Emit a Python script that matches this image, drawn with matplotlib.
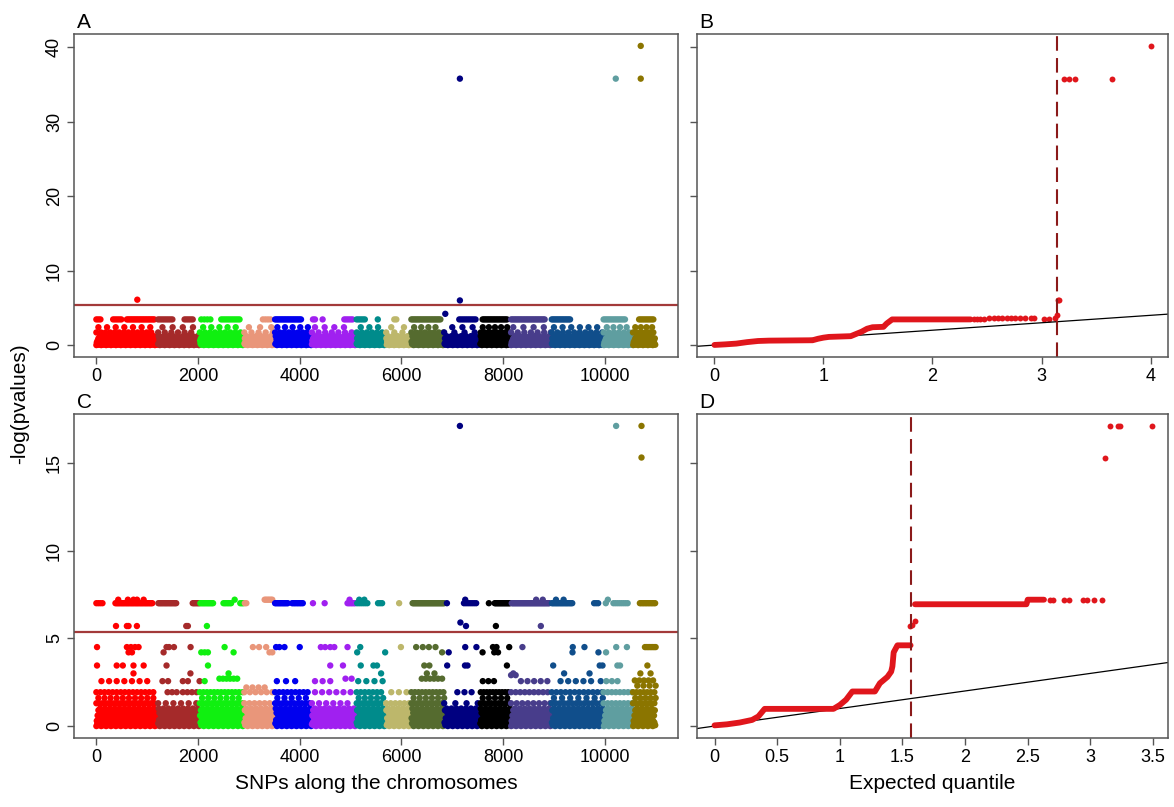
import numpy as np
import matplotlib.pyplot as plt

plt.rcParams['font.family'] = ['Liberation Sans', 'DejaVu Sans']

# ---- chromosomes (SNP index where each one starts) ----
chrom_start = [0, 1215, 2035, 2910, 3515, 4240, 5120, 5700, 6196, 6841,
               7545, 8157, 8957, 9977, 10555]
n_snps = 11000
chrom_colors = ['#FF0000', '#A52A2A', '#10F010', '#E9967A', '#0000EE',
                '#A020F0', '#008B8B', '#BDB76B', '#556B2F', '#000080',
                '#000000', '#483D8B', '#104E8B', '#5F9EA0', '#8B7500']
threshold = 5.34

# ---- panel A: -log p, bulk band levels + rows (level, first SNP, last SNP, spacing) ----
band_A = [0.0, 0.35, 0.1, 0.6, 0.2, 0.9, 0.05, 0.45, 0.15, 1.2, 0.3, 0.75]
runs_A = [
    (3.45, 0, 100, 40), (3.45, 330, 490, 40), (3.45, 600, 1150, 30),
    (3.45, 1215, 1505, 40), (3.45, 1735, 1930, 40),
    (3.45, 2063, 2260, 60), (3.45, 2456, 2850, 40), (3.45, 3275, 3440, 50),
    (3.45, 3515, 4028, 30), (3.45, 4260, 4320, 40), (3.45, 4450, 4450, 1),
    (3.45, 4877, 5050, 40), (3.45, 5120, 5305, 40), (3.45, 5535, 5535, 1),
    (3.45, 5860, 5930, 40), (3.45, 6196, 6778, 30), (3.45, 7138, 7466, 40),
    (3.45, 7597, 8088, 30), (3.45, 8157, 8841, 30), (3.45, 8957, 9333, 30),
    (3.45, 9977, 10413, 35), (3.45, 10675, 10970, 35),
    (2.4, 40, 1150, 170), (2.4, 1300, 1980, 200), (2.4, 2100, 2850, 160),
    (2.4, 3000, 3440, 220), (2.4, 3560, 4200, 150), (2.4, 4300, 5050, 190),
    (2.4, 5200, 5650, 170), (2.4, 5800, 6150, 250), (2.4, 6250, 6800, 140),
    (2.4, 7000, 7500, 200), (2.4, 7600, 8100, 120), (2.4, 8200, 8900, 200),
    (2.4, 9000, 9900, 170), (2.4, 10040, 10500, 130), (2.4, 10600, 10990, 110),
    (1.7, 0, 1150, 90), (1.7, 1215, 1980, 130), (1.7, 2035, 2900, 100),
    (1.7, 2910, 3500, 140), (1.7, 3515, 4200, 90), (1.7, 4240, 5050, 130),
    (1.7, 5120, 5650, 100), (1.7, 5700, 6150, 160), (1.7, 6196, 6840, 90),
    (1.7, 6841, 7545, 200), (1.7, 7560, 8150, 80), (1.7, 8157, 8950, 130),
    (1.7, 8957, 9960, 110), (1.7, 9977, 10550, 100), (1.7, 10555, 11000, 80),
]
top_A_snp = [805, 7150, 6863, 7150, 10216, 10707, 10707]
top_A_val = [6.1, 6.0, 4.2, 35.8, 35.8, 35.8, 40.2]

# ---- panel C ----
band_C = [0.0, 0.3, 0.1, 0.6, 0.2, 0.9, 0.05, 0.45, 0.15, 1.0, 0.35, 0.75]
runs_C = [
    (7.0, 0, 130, 40), (7.0, 375, 1105, 25), (7.0, 1220, 1590, 25),
    (7.0, 1895, 2310, 25), (7.0, 2500, 2650, 30), (7.0, 2830, 2950, 30),
    (7.2, 3310, 3460, 30), (7.0, 3515, 3775, 25), (7.0, 3850, 4075, 30),
    (7.0, 4940, 5090, 30), (7.0, 5130, 5350, 40), (7.0, 5540, 5620, 40),
    (7.0, 6220, 6840, 20), (7.0, 7230, 7500, 40), (7.0, 7835, 8140, 20),
    (7.0, 8170, 8925, 20), (7.0, 8960, 9375, 25), (7.0, 9790, 9900, 40),
    (7.0, 10170, 10465, 40), (7.0, 10690, 11000, 30),
    (4.5, 10790, 11000, 30),
    (2.56, 100, 1100, 150), (2.56, 1300, 1450, 110), (2.56, 1700, 1800, 100),
    (2.56, 2030, 2130, 100), (2.7, 2420, 2800, 70), (2.2, 2950, 3400, 120),
    (2.56, 3550, 4000, 180), (2.56, 4300, 4600, 150), (2.7, 4900, 5050, 120),
    (2.56, 5150, 5650, 160), (2.7, 6400, 6800, 80), (2.56, 7600, 7830, 110),
    (2.9, 8157, 8250, 90), (2.56, 8350, 8880, 130), (2.56, 9130, 9760, 150),
    (2.56, 9920, 10340, 110), (2.6, 10590, 11000, 90), (2.3, 10640, 11000, 120),
    (1.93, 0, 1150, 80), (1.93, 1400, 1600, 90), (1.93, 1700, 1980, 90),
    (1.93, 2035, 2900, 70), (1.93, 2910, 3500, 110), (1.93, 3515, 4200, 80),
    (1.93, 4300, 5050, 140), (1.93, 5120, 5650, 80), (1.93, 5800, 6150, 150),
    (1.93, 6196, 6840, 70), (1.93, 7100, 7500, 140), (1.93, 7560, 8150, 60),
    (1.93, 8157, 8950, 90), (1.93, 8957, 9960, 90), (1.93, 9977, 10550, 80),
    (1.93, 10555, 11000, 70),
    (1.6, 40, 1150, 120), (1.6, 2080, 2900, 120), (1.6, 3560, 4200, 140),
    (1.6, 5160, 5650, 120), (1.6, 6240, 6840, 120), (1.6, 7600, 8150, 120),
    (1.6, 9000, 9960, 160), (1.6, 10600, 11000, 100),
    (1.3, 0, 1150, 60), (1.3, 1215, 1980, 150), (1.3, 2035, 2900, 60),
    (1.3, 2910, 3500, 100), (1.3, 3515, 4200, 75), (1.3, 4240, 5050, 140),
    (1.3, 5120, 5650, 60), (1.3, 5700, 6150, 90), (1.3, 6196, 6840, 60),
    (1.3, 6841, 7545, 220), (1.3, 7560, 8150, 70), (1.3, 8157, 8950, 110),
    (1.3, 8957, 9960, 80), (1.3, 9977, 10550, 80), (1.3, 10555, 11000, 60),
]
c_72 = [430, 620, 730, 800, 930, 2720, 4980, 5170, 5270, 7255, 8650, 8780,
        9040, 9190, 10060]
c_70 = [4260, 4490, 5955, 6895, 7720, 10020]
c_57 = [386, 600, 633, 797, 1768, 1800, 2174, 7270, 7858, 8742]
c_45 = [13, 600, 680, 760, 830, 1380, 1430, 1526, 1853, 2522, 3078, 3200,
        3340, 3535, 3600, 3700, 4000, 4415, 4500, 4600, 4680, 4940, 5190,
        5990, 6290, 6420, 6540, 6670, 7255, 7475, 7800, 7870, 8120, 8380,
        9370, 9600, 10225, 10435]
c_42 = [633, 700, 1322, 2063, 2130, 2194, 2699, 3405, 3460, 5130, 5680, 6800,
        6930, 7596, 7826, 7900, 9365, 9875, 10025]
c_35 = [13, 400, 520, 730, 930, 1380, 2195, 4600, 4850, 5200, 5450, 5520,
        6450, 6550, 6900, 7250, 7300, 8075, 8985, 9900, 9955, 10248, 10300,
        10838]
c_30 = [730, 1850, 2600, 5600, 6500, 6650, 8200, 9200, 9700, 10700, 10900]
top_C_snp = [7160, 7150, 10223, 10722, 10722]
top_C_val = [5.9, 17.1, 17.1, 17.1, 15.3]

# ---- QQ plots: dense part as vertices, sparse tail as dots ----
qqB_x = [0, 0.1, 0.2, 0.3, 0.4, 0.5, 0.9, 0.95, 1.0, 1.05, 1.25, 1.3, 1.35,
         1.4, 1.45, 1.55, 1.58, 1.63, 2.35]
qqB_y = [0.02, 0.1, 0.2, 0.4, 0.55, 0.6, 0.65, 0.85, 1.0, 1.1, 1.2, 1.5, 1.8,
         2.2, 2.4, 2.45, 2.9, 3.45, 3.45]
qqB_tail_x = [2.38, 2.41, 2.44, 2.47, 2.52, 2.56, 2.6, 2.64, 2.68, 2.72,
              2.76, 2.8, 2.85, 2.9, 2.93, 3.02, 3.07, 3.12, 3.14, 3.15, 3.16,
              3.21, 3.25, 3.31, 3.65, 4.0]
qqB_tail_y = [3.45, 3.45, 3.45, 3.45, 3.6, 3.6, 3.6, 3.6, 3.6, 3.6, 3.6, 3.6,
              3.6, 3.6, 3.6, 3.55, 3.55, 3.7, 4.1, 6.0, 6.1, 35.8, 35.8,
              35.8, 35.8, 40.2]
qqB_cut = 3.14

qqD_x = [0, 0.1, 0.2, 0.3, 0.35, 0.4, 0.95, 1.0, 1.05, 1.1, 1.28, 1.32,
         1.38, 1.41, 1.42, 1.43, 1.46, 1.565]
qqD_y = [0.04, 0.1, 0.2, 0.35, 0.55, 0.98, 0.98, 1.2, 1.5, 1.97, 1.97, 2.44,
         2.8, 3.1, 3.4, 4.2, 4.6, 4.6]
qqD2_x = [1.6, 2.49, 2.5, 2.63]
qqD2_y = [6.94, 6.94, 7.2, 7.2]
qqD_tail_x = [1.56, 1.58, 1.6, 2.68, 2.7, 2.79, 2.83, 2.94, 2.97, 3.03, 3.09,
              3.12, 3.16, 3.22, 3.24, 3.49]
qqD_tail_y = [5.72, 5.75, 6.0, 7.2, 7.2, 7.2, 7.2, 7.2, 7.2, 7.2, 7.2, 15.3,
              17.1, 17.1, 17.1, 17.1]
qqD_cut = 1.57


def manhattan_points(band, runs, singles, extra_x, extra_y):
    xs, ys = [], []
    for i, x in enumerate(range(0, n_snps, 8)):
        xs.append(x)
        ys.append(band[i % len(band)])
    for lvl, a, b, g in runs:
        for x in range(a, b + 1, g):
            xs.append(x)
            ys.append(lvl)
    for lvl, pos in singles:
        xs += pos
        ys += [lvl] * len(pos)
    xs += extra_x
    ys += extra_y
    xs = np.array(xs)
    ys = np.array(ys)
    order = np.argsort(xs, kind='stable')
    xs, ys = xs[order], ys[order]
    idx = np.searchsorted(chrom_start, xs, side='right') - 1
    cols = [chrom_colors[i] for i in idx]
    return xs, ys, cols


def style(ax, ylim, yticks, xlim, xticks, xlabels, ylabels=True):
    ax.set_xlim(*xlim)
    ax.set_ylim(*ylim)
    ax.set_xticks(xticks)
    ax.set_xticklabels(xlabels)
    ax.set_yticks(yticks)
    if ylabels:
        ax.set_yticklabels([str(t) for t in yticks], rotation=90, va='center')
    else:
        ax.set_yticklabels([])
    for s in ax.spines.values():
        s.set_color('#555555')
        s.set_linewidth(1.1)
    ax.tick_params(direction='out', length=5, width=1, color='#555555',
                   labelsize=13, pad=3)


W, H = 1174, 807
fig = plt.figure(figsize=(W / 100, H / 100), dpi=100)
axA = fig.add_axes([74 / W, 1 - 357 / H, 604 / W, 323 / H])
axB = fig.add_axes([697 / W, 1 - 357 / H, 471 / W, 323 / H])
axC = fig.add_axes([74 / W, 1 - 738 / H, 604 / W, 324 / H])
axD = fig.add_axes([697 / W, 1 - 738 / H, 471 / W, 324 / H])

snp_xlim = (-440, 11440)
snp_ticks = [0, 2000, 4000, 6000, 8000, 10000]

xs, ys, cols = manhattan_points(band_A, runs_A, [], top_A_snp, top_A_val)
axA.scatter(xs, ys, c=cols, s=21, linewidths=0)
axA.axhline(threshold, color='#A33A3A', lw=1.6)
style(axA, (-1.6, 41.8), [0, 10, 20, 30, 40], snp_xlim, snp_ticks,
      [str(t) for t in snp_ticks])

singles_C = [(7.2, c_72), (7.0, c_70), (5.7, c_57), (4.5, c_45), (4.2, c_42),
             (3.45, c_35), (3.0, c_30)]
xs, ys, cols = manhattan_points(band_C, runs_C, singles_C, top_C_snp, top_C_val)
axC.scatter(xs, ys, c=cols, s=21, linewidths=0)
axC.axhline(threshold, color='#A33A3A', lw=1.6)
style(axC, (-0.68, 17.78), [0, 5, 10, 15], snp_xlim, snp_ticks,
      [str(t) for t in snp_ticks])
axC.set_xlabel('SNPs along the chromosomes', fontsize=15, labelpad=6)

qq_red = '#E0161C'
axB.plot([-1, 5], [-1, 5], color='black', lw=0.9)
axB.plot(qqB_x, qqB_y, color=qq_red, lw=4.2, solid_capstyle='round')
axB.scatter(qqB_tail_x, qqB_tail_y, color=qq_red, s=18, linewidths=0)
axB.axvline(qqB_cut, color='#8B1A1A', lw=1.5, ls=(0, (7, 3.5)))
style(axB, (-1.6, 41.8), [0, 10, 20, 30, 40], (-0.16, 4.16), [0, 1, 2, 3, 4],
      ['0', '1', '2', '3', '4'], ylabels=False)

axD.plot([-1, 5], [-1, 5], color='black', lw=0.9)
axD.plot(qqD_x, qqD_y, color=qq_red, lw=4.2, solid_capstyle='round')
axD.plot(qqD2_x, qqD2_y, color=qq_red, lw=4.2, solid_capstyle='round')
axD.scatter(qqD_tail_x, qqD_tail_y, color=qq_red, s=18, linewidths=0)
axD.axvline(qqD_cut, color='#8B1A1A', lw=1.5, ls=(0, (7, 3.5)))
d_ticks = [0, 0.5, 1, 1.5, 2, 2.5, 3, 3.5]
style(axD, (-0.68, 17.78), [0, 5, 10, 15], (-0.14, 3.62), d_ticks,
      ['0', '0.5', '1', '1.5', '2', '2.5', '3', '3.5'], ylabels=False)
axD.set_xlabel('Expected quantile', fontsize=15, labelpad=6)

for ax, lab in [(axA, 'A'), (axB, 'B'), (axC, 'C'), (axD, 'D')]:
    ax.text(0.005, 1.005, lab, transform=ax.transAxes, fontsize=15,
            ha='left', va='bottom')

fig.text(20 / W, 0.5, '-log(pvalues)', rotation=90, fontsize=15,
         ha='center', va='center')

fig.savefig('out.png', dpi=100)
